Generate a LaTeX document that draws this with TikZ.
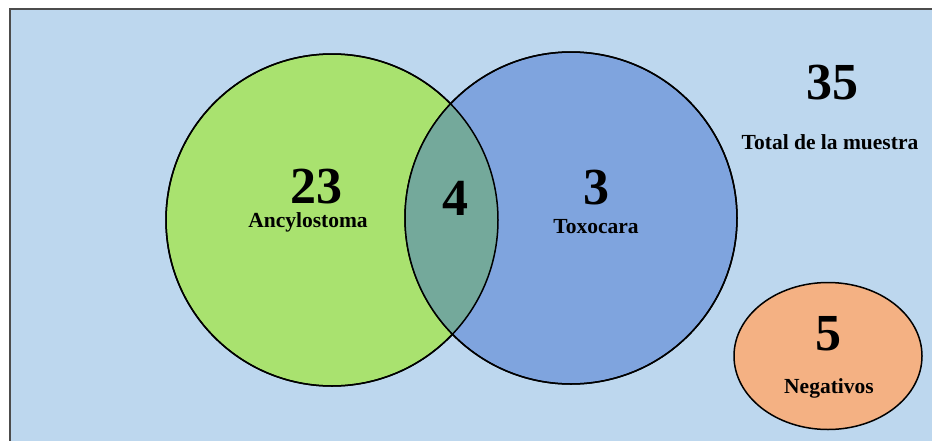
\documentclass[tikz,border=0pt]{standalone}
\usepackage{fontspec}
\setmainfont{Liberation Serif}
\usepackage{xcolor}
\usetikzlibrary{shapes.geometric}

\definecolor{fondo}{HTML}{BDD7EE}
\definecolor{verde}{HTML}{A9E26F}
\definecolor{azul}{HTML}{7FA4DE}
\definecolor{cruce}{HTML}{74A99B}
\definecolor{naranja}{HTML}{F4B183}

\tikzset{
  conjunto/.style={circle,draw=black,line width=1.5pt,minimum size=332pt,inner sep=0pt},
  numero/.style={inner sep=0pt,font=\fontsize{52}{52}\selectfont\bfseries},
  etiqueta/.style={inner sep=0pt,font=\fontsize{21.5}{21.5}\selectfont\bfseries}
}

\begin{document}
\begin{tikzpicture}[x=1pt,y=-1pt]
  \useasboundingbox (0,0) rectangle (932,440);
  \fill[white] (0,0) rectangle (932,440);
    % fondo
  \fill[fondo] (10,9) rectangle (940,450);
  \draw[line width=2pt,black!70] (10,450) -- (10,9) -- (940,9);

  \node[conjunto,fill=verde] (A) at (332,220) {};
  \node[conjunto,fill=azul] (T) at (571,218) {};
  \begin{scope}
    \clip (A.center) circle (166);
    \fill[cruce] (T.center) circle (166);
  \end{scope}
  \draw[line width=1.5pt] (A.center) circle (166);
  \draw[line width=1.5pt] (T.center) circle (166);

  \node[ellipse,draw=black,line width=1.5pt,fill=naranja,minimum width=188pt,minimum height=147pt] (N) at (828,356) {};

    % textos
  \node[numero] (nA) at (316,187) {23};
  \node[etiqueta] (eA) at (308,222) {Ancylostoma};
  \node[numero] (nAT) at (455,198) {4};
  \node[numero] (nT) at (596,188) {3};
  \node[etiqueta] (eT) at (596,227) {Toxocara};
  \node[numero] (nTot) at (832,83) {35};
  \node[etiqueta] (eTot) at (830,142) {Total de la muestra};
  \node[numero] (nN) at (828,334) {5};
  \node[etiqueta] (eN) at (829,388) {Negativos};
\end{tikzpicture}
\end{document}
